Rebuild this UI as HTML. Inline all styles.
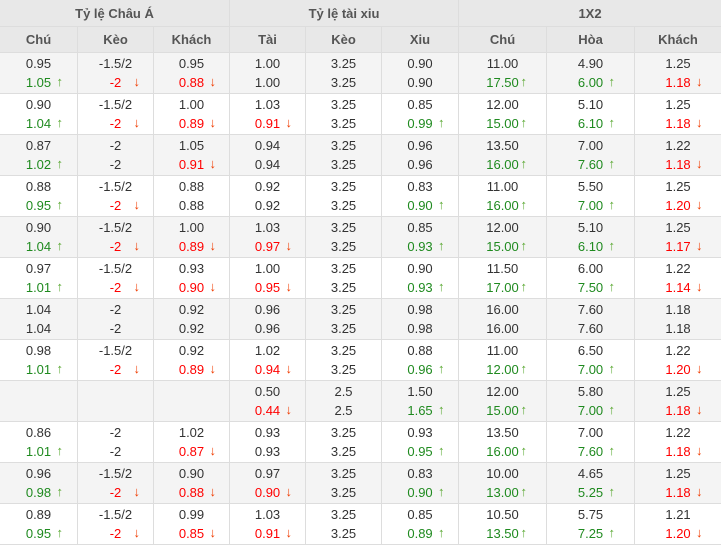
<!DOCTYPE html>
<html><head><meta charset="utf-8"><style>
body{margin:0;width:721px;height:542px;overflow:hidden;background:#fff;font-family:"Liberation Sans",Arial,sans-serif;font-size:13px;color:#333}
table{border-collapse:collapse;table-layout:fixed;width:722px;margin:-1px 0 0 -1px}
td,th{border:1px solid #ddd;padding:0;text-align:center;position:relative}
th{background:#e8e8e8;color:#555;font-weight:bold;font-size:13px}
tr.h1 th{height:26px}
tr.h2 th{height:25px}
td{height:40px;vertical-align:top;overflow:hidden}
tr.o td{background:#f4f4f4}
p{margin:0;height:20px;line-height:22px;position:relative}
p+p{line-height:20px}
.g{color:#1f8a1f}.r{color:#f00}
i{position:absolute;left:calc(50% + 18px);font-style:normal;font-weight:bold;font-size:13px;top:-1px}
.g i{color:#5aa832}.r i{color:#f03c00}
</style></head><body>
<table>
<colgroup><col style="width:78px"><col style="width:76px"><col style="width:76px"><col style="width:76px"><col style="width:76px"><col style="width:77px"><col style="width:88px"><col style="width:88px"><col style="width:87px"></colgroup>
<tr class="h1"><th colspan="3">Tỷ lệ Châu Á</th><th colspan="3">Tỷ lệ tài xiu</th><th colspan="3">1X2</th></tr>
<tr class="h2"><th>Chú</th><th>Kèo</th><th>Khách</th><th>Tài</th><th>Kèo</th><th>Xiu</th><th>Chú</th><th>Hòa</th><th>Khách</th></tr>

<tr class="o"><td><p>0.95</p><p class="g">1.05<i>↑</i></p></td><td><p>-1.5/2</p><p class="r">-2<i>↓</i></p></td><td><p>0.95</p><p class="r">0.88<i>↓</i></p></td><td><p>1.00</p><p>1.00</p></td><td><p>3.25</p><p>3.25</p></td><td><p>0.90</p><p>0.90</p></td><td><p>11.00</p><p class="g">17.50<i>↑</i></p></td><td><p>4.90</p><p class="g">6.00<i>↑</i></p></td><td><p>1.25</p><p class="r">1.18<i>↓</i></p></td></tr>

<tr><td><p>0.90</p><p class="g">1.04<i>↑</i></p></td><td><p>-1.5/2</p><p class="r">-2<i>↓</i></p></td><td><p>1.00</p><p class="r">0.89<i>↓</i></p></td><td><p>1.03</p><p class="r">0.91<i>↓</i></p></td><td><p>3.25</p><p>3.25</p></td><td><p>0.85</p><p class="g">0.99<i>↑</i></p></td><td><p>12.00</p><p class="g">15.00<i>↑</i></p></td><td><p>5.10</p><p class="g">6.10<i>↑</i></p></td><td><p>1.25</p><p class="r">1.18<i>↓</i></p></td></tr>

<tr class="o"><td><p>0.87</p><p class="g">1.02<i>↑</i></p></td><td><p>-2</p><p>-2</p></td><td><p>1.05</p><p class="r">0.91<i>↓</i></p></td><td><p>0.94</p><p>0.94</p></td><td><p>3.25</p><p>3.25</p></td><td><p>0.96</p><p>0.96</p></td><td><p>13.50</p><p class="g">16.00<i>↑</i></p></td><td><p>7.00</p><p class="g">7.60<i>↑</i></p></td><td><p>1.22</p><p class="r">1.18<i>↓</i></p></td></tr>

<tr><td><p>0.88</p><p class="g">0.95<i>↑</i></p></td><td><p>-1.5/2</p><p class="r">-2<i>↓</i></p></td><td><p>0.88</p><p>0.88</p></td><td><p>0.92</p><p>0.92</p></td><td><p>3.25</p><p>3.25</p></td><td><p>0.83</p><p class="g">0.90<i>↑</i></p></td><td><p>11.00</p><p class="g">16.00<i>↑</i></p></td><td><p>5.50</p><p class="g">7.00<i>↑</i></p></td><td><p>1.25</p><p class="r">1.20<i>↓</i></p></td></tr>

<tr class="o"><td><p>0.90</p><p class="g">1.04<i>↑</i></p></td><td><p>-1.5/2</p><p class="r">-2<i>↓</i></p></td><td><p>1.00</p><p class="r">0.89<i>↓</i></p></td><td><p>1.03</p><p class="r">0.97<i>↓</i></p></td><td><p>3.25</p><p>3.25</p></td><td><p>0.85</p><p class="g">0.93<i>↑</i></p></td><td><p>12.00</p><p class="g">15.00<i>↑</i></p></td><td><p>5.10</p><p class="g">6.10<i>↑</i></p></td><td><p>1.25</p><p class="r">1.17<i>↓</i></p></td></tr>

<tr><td><p>0.97</p><p class="g">1.01<i>↑</i></p></td><td><p>-1.5/2</p><p class="r">-2<i>↓</i></p></td><td><p>0.93</p><p class="r">0.90<i>↓</i></p></td><td><p>1.00</p><p class="r">0.95<i>↓</i></p></td><td><p>3.25</p><p>3.25</p></td><td><p>0.90</p><p class="g">0.93<i>↑</i></p></td><td><p>11.50</p><p class="g">17.00<i>↑</i></p></td><td><p>6.00</p><p class="g">7.50<i>↑</i></p></td><td><p>1.22</p><p class="r">1.14<i>↓</i></p></td></tr>

<tr class="o"><td><p>1.04</p><p>1.04</p></td><td><p>-2</p><p>-2</p></td><td><p>0.92</p><p>0.92</p></td><td><p>0.96</p><p>0.96</p></td><td><p>3.25</p><p>3.25</p></td><td><p>0.98</p><p>0.98</p></td><td><p>16.00</p><p>16.00</p></td><td><p>7.60</p><p>7.60</p></td><td><p>1.18</p><p>1.18</p></td></tr>

<tr><td><p>0.98</p><p class="g">1.01<i>↑</i></p></td><td><p>-1.5/2</p><p class="r">-2<i>↓</i></p></td><td><p>0.92</p><p class="r">0.89<i>↓</i></p></td><td><p>1.02</p><p class="r">0.94<i>↓</i></p></td><td><p>3.25</p><p>3.25</p></td><td><p>0.88</p><p class="g">0.96<i>↑</i></p></td><td><p>11.00</p><p class="g">12.00<i>↑</i></p></td><td><p>6.50</p><p class="g">7.00<i>↑</i></p></td><td><p>1.22</p><p class="r">1.20<i>↓</i></p></td></tr>

<tr class="o"><td></td><td></td><td></td><td><p>0.50</p><p class="r">0.44<i>↓</i></p></td><td><p>2.5</p><p>2.5</p></td><td><p>1.50</p><p class="g">1.65<i>↑</i></p></td><td><p>12.00</p><p class="g">15.00<i>↑</i></p></td><td><p>5.80</p><p class="g">7.00<i>↑</i></p></td><td><p>1.25</p><p class="r">1.18<i>↓</i></p></td></tr>

<tr><td><p>0.86</p><p class="g">1.01<i>↑</i></p></td><td><p>-2</p><p>-2</p></td><td><p>1.02</p><p class="r">0.87<i>↓</i></p></td><td><p>0.93</p><p>0.93</p></td><td><p>3.25</p><p>3.25</p></td><td><p>0.93</p><p class="g">0.95<i>↑</i></p></td><td><p>13.50</p><p class="g">16.00<i>↑</i></p></td><td><p>7.00</p><p class="g">7.60<i>↑</i></p></td><td><p>1.22</p><p class="r">1.18<i>↓</i></p></td></tr>

<tr class="o"><td><p>0.96</p><p class="g">0.98<i>↑</i></p></td><td><p>-1.5/2</p><p class="r">-2<i>↓</i></p></td><td><p>0.90</p><p class="r">0.88<i>↓</i></p></td><td><p>0.97</p><p class="r">0.90<i>↓</i></p></td><td><p>3.25</p><p>3.25</p></td><td><p>0.83</p><p class="g">0.90<i>↑</i></p></td><td><p>10.00</p><p class="g">13.00<i>↑</i></p></td><td><p>4.65</p><p class="g">5.25<i>↑</i></p></td><td><p>1.25</p><p class="r">1.18<i>↓</i></p></td></tr>

<tr><td><p>0.89</p><p class="g">0.95<i>↑</i></p></td><td><p>-1.5/2</p><p class="r">-2<i>↓</i></p></td><td><p>0.99</p><p class="r">0.85<i>↓</i></p></td><td><p>1.03</p><p class="r">0.91<i>↓</i></p></td><td><p>3.25</p><p>3.25</p></td><td><p>0.85</p><p class="g">0.89<i>↑</i></p></td><td><p>10.50</p><p class="g">13.50<i>↑</i></p></td><td><p>5.75</p><p class="g">7.25<i>↑</i></p></td><td><p>1.21</p><p class="r">1.20<i>↓</i></p></td></tr>
</table>
</body></html>
